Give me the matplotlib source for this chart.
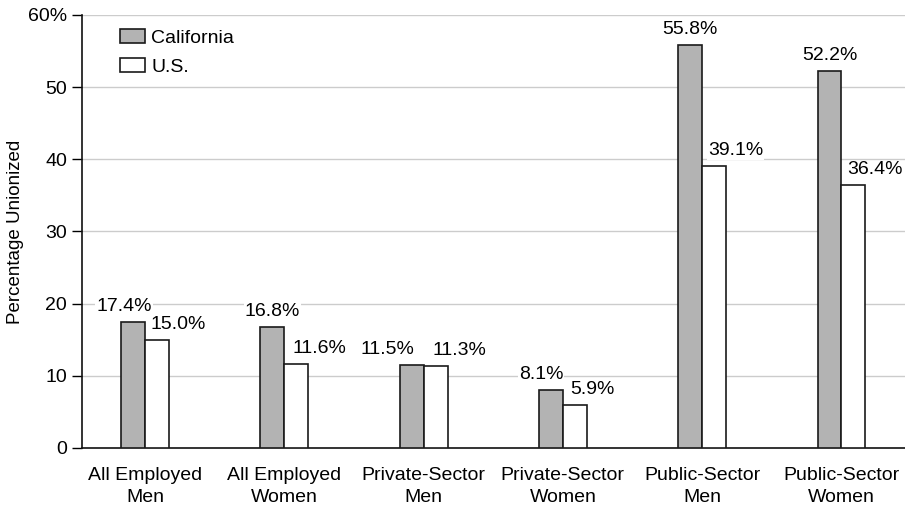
import matplotlib
matplotlib.use("Agg")
import matplotlib.pyplot as plt
import numpy as np

categories = ["All Employed\nMen", "All Employed\nWomen", "Private-Sector\nMen",
              "Private-Sector\nWomen", "Public-Sector\nMen", "Public-Sector\nWomen"]
california = [17.4, 16.8, 11.5, 8.1, 55.8, 52.2]
us = [15.0, 11.6, 11.3, 5.9, 39.1, 36.4]
yticks = [0, 10, 20, 30, 40, 50, 60]
ytick_labels = ["0", "10", "20", "30", "40", "50", "60%"]

# label placement offsets (pixels)
ca_dx = [-9, 0, -24, -10, 0, 0]
us_dx = [6, 8, 9, 7, 6, 6]

plt.rcParams['font.family'] = ['Liberation Sans', 'DejaVu Sans']
fs = 14

fig = plt.figure(figsize=(9.05, 5.07), dpi=100)
ax = fig.add_axes([82/905, 59/507, 1 - 82/905, (448-15)/507])

x = np.arange(len(categories))
w = 0.172
ax.bar(x - w/2, california, w, color="#b3b3b3", edgecolor="#1a1a1a",
       linewidth=1.2, label="California", zorder=3)
ax.bar(x + w/2, us, w, color="white", edgecolor="#1a1a1a",
       linewidth=1.2, label="U.S.", zorder=3)

for i, v in enumerate(california):
    ax.annotate(f"{v:.1f}%", xy=(x[i] - w/2, v), xytext=(ca_dx[i], 7),
                textcoords="offset pixels", ha="center", va="bottom",
                fontsize=fs, zorder=4,
                bbox=dict(facecolor="white", edgecolor="none", pad=0.5))
for i, v in enumerate(us):
    ax.annotate(f"{v:.1f}%", xy=(x[i], v), xytext=(us_dx[i], 7),
                textcoords="offset pixels", ha="left", va="bottom",
                fontsize=fs, zorder=4,
                bbox=dict(facecolor="white", edgecolor="none", pad=0.5))

ax.set_xlim(-0.452, 5.456)
ax.set_ylim(0, 60)
ax.set_yticks(yticks)
ax.set_yticklabels(ytick_labels, fontsize=fs)
ax.set_xticks(x)
ax.set_xticklabels(categories, fontsize=fs, linespacing=1.35)
ax.tick_params(axis="x", length=0, pad=14)
ax.tick_params(axis="y", length=7.2, width=1, pad=3.5)
ax.set_ylabel("Percentage Unionized", fontsize=13.5)
ax.yaxis.set_label_coords((24 - 82) / 823, 0.5)

for y in yticks[1:]:
    ax.axhline(y, color="#cccccc", linewidth=1, zorder=1)

for s in ["top", "right"]:
    ax.spines[s].set_visible(False)
for s in ["left", "bottom"]:
    ax.spines[s].set_linewidth(1.2)
    ax.spines[s].set_color("#111111")

ax.legend(loc="upper left", bbox_to_anchor=(0.037, 0.985), frameon=False,
          fontsize=fs, handlelength=1.29, handleheight=0.67,
          handletextpad=0.3, labelspacing=0.6, borderaxespad=0)

fig.savefig("out.png", dpi=100)
